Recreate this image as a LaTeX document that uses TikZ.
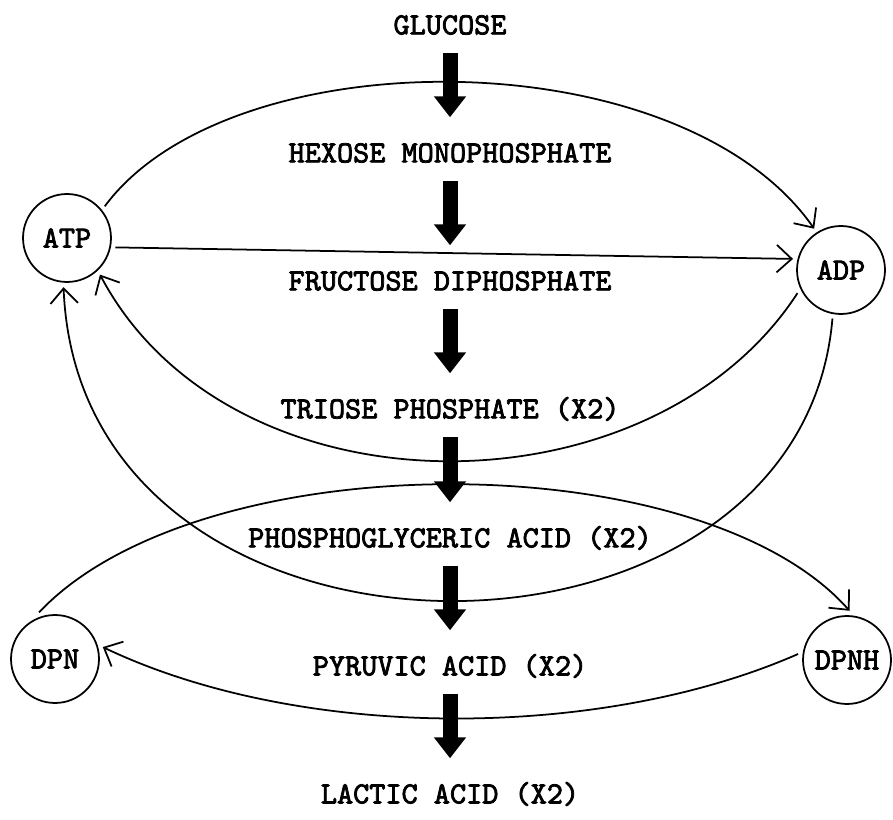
\documentclass[tikz,border=0pt]{standalone}
\usepackage{fontspec}
\newfontfamily\typer{lmmono10-regular}[Extension=.otf, FakeBold=2.5]
\usetikzlibrary{arrows.meta}

\begin{document}
\begin{tikzpicture}[x=0.02cm, y=-0.02cm,
  chem/.style={font=\fontsize{17.5}{20}\selectfont\typer, text height=11.8pt, text depth=0pt, inner sep=0pt},
  pool/.style={draw, circle, line width=1pt, minimum size=1.76cm, inner sep=0pt, outer sep=3pt, font=\fontsize{17.5}{20}\selectfont\typer},
  flow/.style={line width=0.3cm, -{Triangle[width=0.62cm, length=0.42cm]}, shorten <=0.36cm, shorten >=0.48cm},
  turn/.style={line width=1pt, -{Straight Barb[length=0.3cm, width=0.55cm]}}]

\useasboundingbox (0, 0) rectangle (893, 820);

\node (1) [chem] at (450, 24) {GLUCOSE};
\node (2) [chem] at (450, 152) {HEXOSE MONOPHOSPHATE};
\node (3) [chem] at (450, 280) {FRUCTOSE DIPHOSPHATE};
\node (4) [chem] at (450, 408) {TRIOSE PHOSPHATE (X2)};
\node (5) [chem] at (450, 537) {PHOSPHOGLYCERIC ACID (X2)};
\node (6) [chem] at (450, 665) {PYRUVIC ACID (X2)};
\node (7) [chem] at (450, 793) {LACTIC ACID (X2)};

\node (8) [pool] at (67, 238) {ATP};
\node (9) [pool] at (841, 270) {ADP};
\node (10) [pool] at (55, 659) {DPN};
\node (11) [pool] at (847, 660) {DPNH};

\draw [flow] (1) -- (2);
\draw [flow] (2) -- (3);
\draw [flow] (3) -- (4);
\draw [flow] (4) -- (5);
\draw [flow] (5) -- (6);
\draw [flow] (6) -- (7);

\draw [turn] (8.40) .. controls (230, 37) and (680, 37) .. (9.123);
\draw [turn] (8.-11) -- (9.167);
\draw [turn] (9.208) .. controls (650, 520) and (230, 520) .. (8.-48);
\draw [turn] (9.260) .. controls (800, 700) and (80, 700) .. (8.-94);
\draw [turn] (10.109) .. controls (200, 442) and (700, 442) .. (11.87);
\draw [turn] (11.173) .. controls (600, 741) and (300, 741) .. (10.14);

\end{tikzpicture}
\end{document}
